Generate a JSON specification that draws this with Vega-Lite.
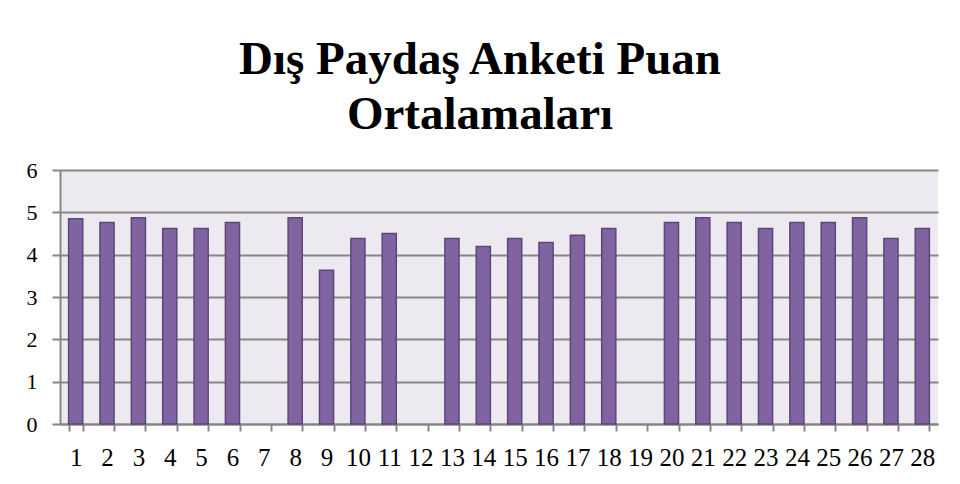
{
  "$schema": "https://vega.github.io/schema/vega-lite/v6.json",
  "width": 878,
  "height": 254,
  "autosize": {"type": "none"},
  "padding": {"left": 60, "top": 170, "right": 22, "bottom": 60},
  "background": "white",
  "title": {
    "text": ["Dış Paydaş Anketi Puan", "Ortalamaları"],
    "font": "Liberation Serif",
    "fontSize": 47,
    "fontWeight": "bold",
    "color": "black",
    "lineHeight": 55,
    "anchor": "middle",
    "frame": "group",
    "dx": -19,
    "baseline": "alphabetic",
    "offset": -17
  },
  "data": {
    "values": [
      {"madde": 1, "puan": 4.85},
      {"madde": 2, "puan": 4.76},
      {"madde": 3, "puan": 4.87},
      {"madde": 4, "puan": 4.62},
      {"madde": 5, "puan": 4.62},
      {"madde": 6, "puan": 4.76},
      {"madde": 8, "puan": 4.87},
      {"madde": 9, "puan": 3.63},
      {"madde": 10, "puan": 4.38},
      {"madde": 11, "puan": 4.5},
      {"madde": 13, "puan": 4.38},
      {"madde": 14, "puan": 4.19},
      {"madde": 15, "puan": 4.38},
      {"madde": 16, "puan": 4.29},
      {"madde": 17, "puan": 4.46},
      {"madde": 18, "puan": 4.62},
      {"madde": 20, "puan": 4.76},
      {"madde": 21, "puan": 4.87},
      {"madde": 22, "puan": 4.76},
      {"madde": 23, "puan": 4.62},
      {"madde": 24, "puan": 4.76},
      {"madde": 25, "puan": 4.76},
      {"madde": 26, "puan": 4.87},
      {"madde": 27, "puan": 4.38},
      {"madde": 28, "puan": 4.62}
    ]
  },
  "mark": {"type": "bar", "fill": "#8064A2", "stroke": "#5C4778", "strokeWidth": 1.5},
  "encoding": {
    "x": {
      "field": "madde",
      "type": "ordinal",
      "scale": {
        "domain": [1,2,3,4,5,6,7,8,9,10,11,12,13,14,15,16,17,18,19,20,21,22,23,24,25,26,27,28],
        "paddingInner": 0.55,
        "paddingOuter": 0.275
      },
      "axis": {
        "title": null,
        "labelAngle": 0,
        "labelFont": "Liberation Serif",
        "labelFontSize": 25,
        "labelColor": "black",
        "labelBaseline": "alphabetic",
        "labelPadding": 34,
        "tickBand": "extent",
        "tickSize": 7,
        "tickColor": "#868686",
        "tickWidth": 2,
        "domainColor": "#868686",
        "domainWidth": 2,
        "grid": false
      }
    },
    "y": {
      "field": "puan",
      "type": "quantitative",
      "scale": {"domain": [0, 6], "nice": false},
      "axis": {
        "title": null,
        "values": [0,1,2,3,4,5,6],
        "labelFont": "Liberation Serif",
        "labelFontSize": 22,
        "labelColor": "black",
        "labelPadding": 15,
        "tickSize": 8,
        "tickColor": "#868686",
        "tickWidth": 2,
        "domainColor": "#868686",
        "domainWidth": 2,
        "grid": true,
        "gridColor": "#868686",
        "gridWidth": 2
      }
    }
  },
  "config": {
    "view": {"fill": "#ECEAF0", "stroke": null}
  }
}
